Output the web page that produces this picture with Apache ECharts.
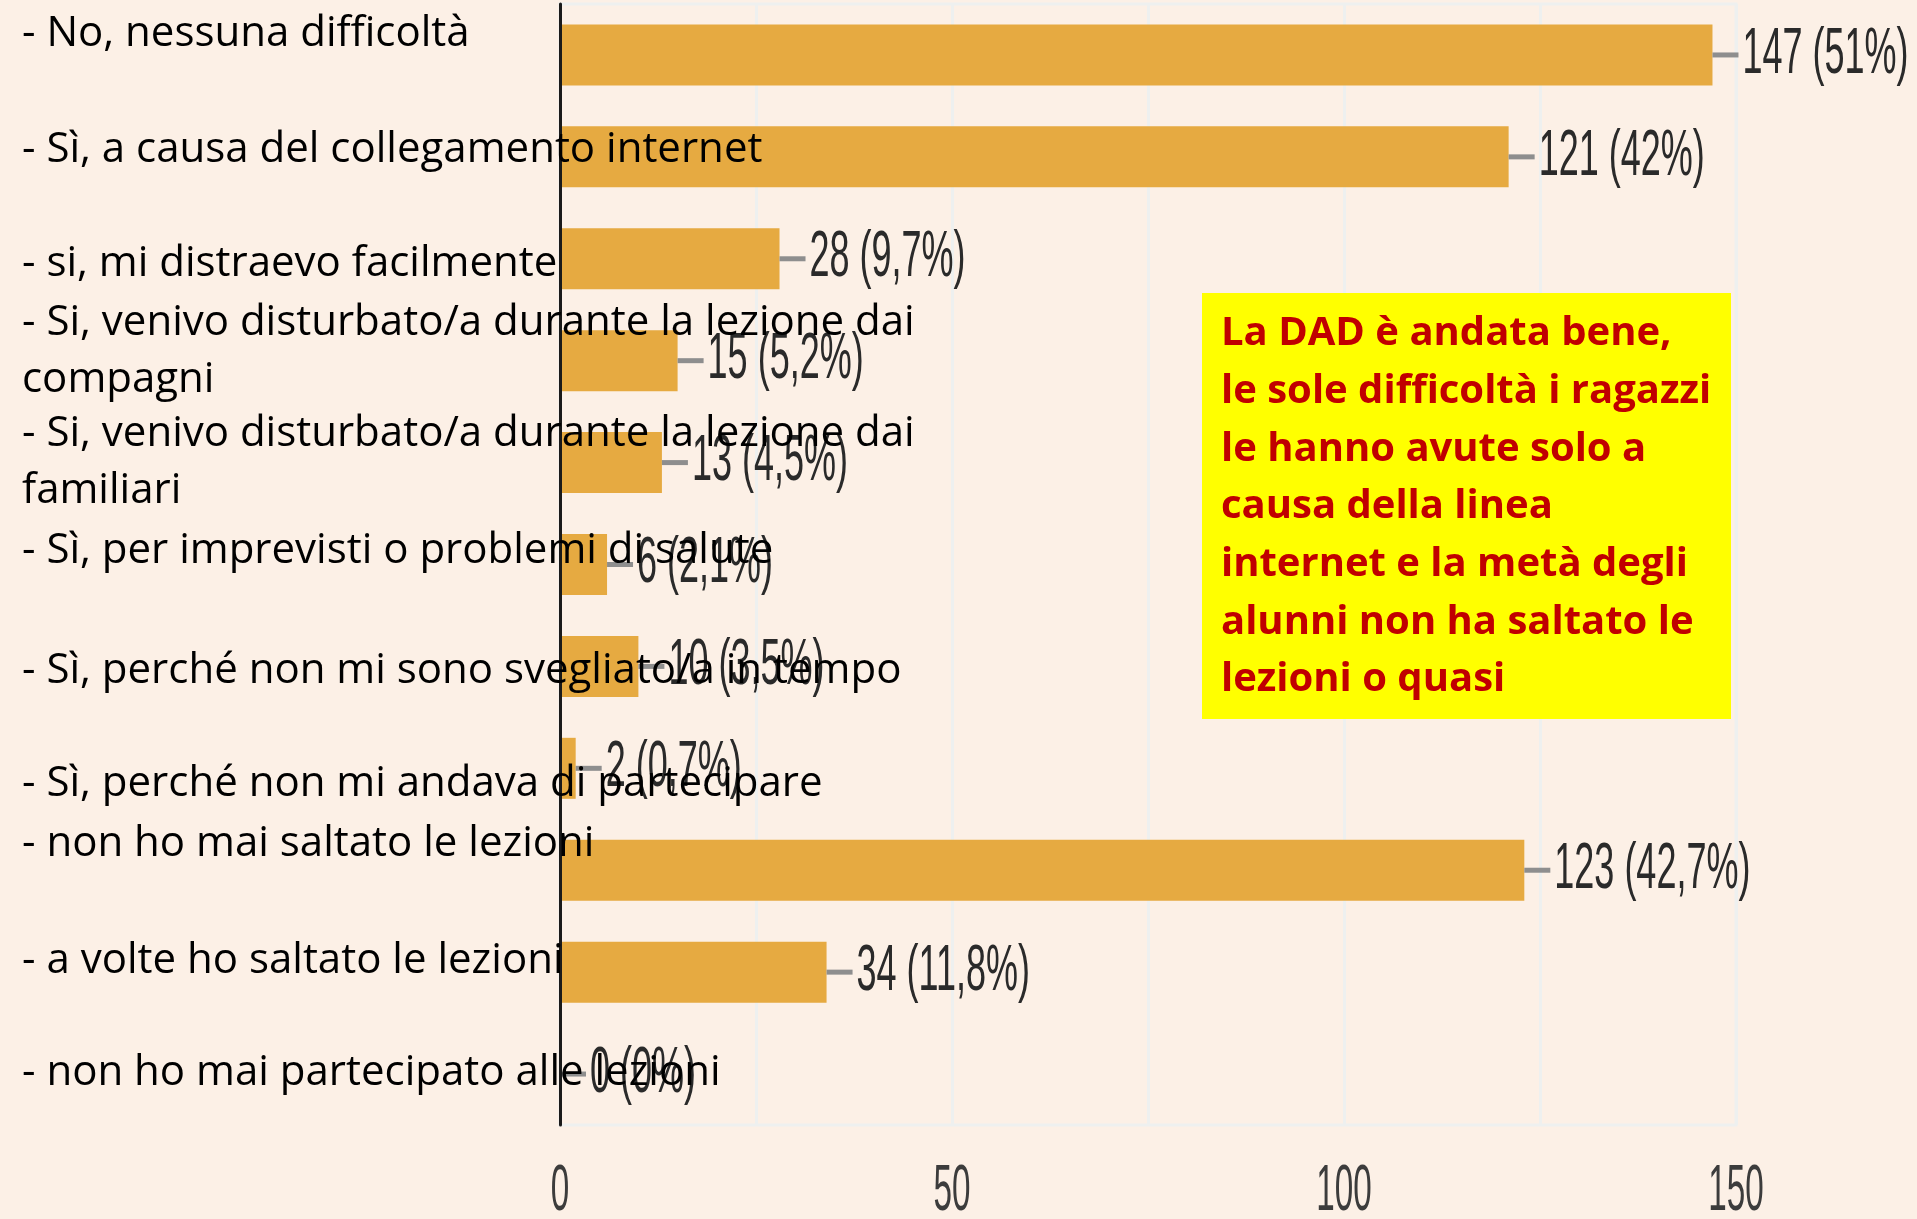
<!DOCTYPE html>
<html lang="it">
<head>
    <meta charset="UTF-8">
    <title>DAD - difficoltà</title>
    <script src="https://cdn.jsdelivr.net/npm/echarts@6/dist/echarts.min.js"></script>
    <style>
        body {
            margin: 0;
            padding: 0;
            background: #fcf0e6;
        }

        #main {
            width: 1917px;
            height: 1219px;
        }
    </style>
</head>
<body>
    <div id="main"></div>
    <script type="text/javascript">
        // risposte (dall'alto in basso)
        var categories = [
            '- No, nessuna difficoltà',
            '- Sì, a causa del collegamento internet',
            '- si, mi distraevo facilmente',
            '- Si, venivo disturbato/a durante la lezione dai\ncompagni',
            '- Si, venivo disturbato/a durante la lezione dai\nfamiliari',
            '- Sì, per imprevisti o problemi di salute',
            '- Sì, perché non mi sono svegliato/a in tempo',
            '- Sì, perché non mi andava di partecipare',
            '- non ho mai saltato le lezioni',
            '- a volte ho saltato le lezioni',
            '- non ho mai partecipato alle lezioni'
        ];
        var counts = [147, 121, 28, 15, 13, 6, 10, 2, 123, 34, 0];
        var percents = ['51%', '42%', '9,7%', '5,2%', '4,5%', '2,1%', '3,5%', '0,7%', '42,7%', '11,8%', '0%'];
        var xTickLabels = [0, 50, 100, 150];

        var note = 'La DAD è andata bene,\nle sole difficoltà i ragazzi\nle hanno avute solo a\ncausa della linea\ninternet e la metà degli\nalunni non ha saltato le\nlezioni o quasi';

        // le etichette di sinistra nella slide non sono centrate sulle barre: piccolo spostamento (px, + = su)
        var nudge = [21, 7, -5, 9, 0, 13, -5, -16, 26, 11, 1];

        var catFont = '"Open Sans", Lato, sans-serif';
        var catSize = 42;
        var numFont = '"Liberation Sans", Arial, sans-serif';
        var padBase = (57.5 - catSize) / 2;

        var rich = {};
        categories.forEach(function (c, i) {
            var n = nudge[i];
            var nl = c.split('\n').length;
            for (var k = 0; k < nl; k++) {
                var top = padBase + (k === 0 && n < 0 ? -2 * n : 0);
                var bottom = padBase + (k === nl - 1 && n > 0 ? 2 * n : 0);
                rich['t' + i + '_' + k] = { padding: [top, 0, bottom, 0] };
            }
        });

        var myChart = echarts.init(document.getElementById('main'));

        var option = {
            animation: false,
            backgroundColor: '#fcf0e6',
            grid: {
                left: 560,
                right: 181,
                top: 4,
                bottom: 94,
                show: true,
                borderColor: '#eef0ef',
                borderWidth: 3,
                outerBoundsMode: 'none'
            },
            xAxis: {
                type: 'value',
                min: 0,
                max: 150,
                interval: 25,
                axisLine: { show: false },
                axisTick: { show: false },
                axisLabel: { show: false },
                splitLine: {
                    lineStyle: { color: '#eef0ef', width: 3 }
                }
            },
            yAxis: {
                type: 'category',
                inverse: true,
                data: categories,
                z: 10,
                axisLine: {
                    show: true,
                    lineStyle: { color: '#1a1a1a', width: 3 }
                },
                axisTick: { show: false },
                splitLine: { show: false },
                axisLabel: {
                    align: 'left',
                    margin: 538,
                    fontFamily: catFont,
                    fontSize: catSize,
                    color: '#000',
                    rich: rich,
                    formatter: function (value, idx) {
                        return value.split('\n').map(function (l, k) {
                            return '{t' + idx + '_' + k + '|' + l + '}';
                        }).join('\n');
                    }
                }
            },
            series: [{
                type: 'bar',
                data: counts,
                barWidth: 61,
                itemStyle: { color: '#e6aa41' }
            }, {
                // valori a destra delle barre (testo stretto come nell'originale)
                type: 'custom',
                coordinateSystem: 'cartesian2d',
                data: counts.map(function (c, i) { return [c, i]; }),
                encode: { x: 0, y: 1 },
                z: 5,
                renderItem: function (params, api) {
                    var i = params.dataIndex;
                    var p = api.coord([api.value(0), i]);
                    return {
                        type: 'group',
                        children: [{
                            type: 'rect',
                            shape: { x: p[0], y: p[1] - 2.5, width: 26, height: 5 },
                            style: { fill: '#8e8e8e' }
                        }, {
                            type: 'text',
                            x: p[0] + 30,
                            y: p[1],
                            scaleX: 0.5625,
                            style: {
                                text: counts[i] + ' (' + percents[i] + ')',
                                font: '64px ' + numFont,
                                align: 'left',
                                verticalAlign: 'middle',
                                fill: '#2a2a2a'
                            }
                        }]
                    };
                }
            }, {
                // etichette dell'asse x
                type: 'custom',
                coordinateSystem: 'cartesian2d',
                data: xTickLabels.map(function (v) { return [v, 0]; }),
                encode: { x: 0, y: 1 },
                z: 5,
                renderItem: function (params, api) {
                    var x = api.coord([api.value(0), 0])[0];
                    var y = params.coordSys.y + params.coordSys.height + 67;
                    return {
                        type: 'text',
                        x: x,
                        y: y,
                        scaleX: 0.52,
                        style: {
                            text: String(api.value(0)),
                            font: '64px ' + numFont,
                            align: 'center',
                            verticalAlign: 'middle',
                            fill: '#3c3c3c'
                        }
                    };
                }
            }],
            graphic: [{
                type: 'rect',
                left: 1202,
                top: 293,
                z: 100,
                shape: { width: 529, height: 426 },
                style: { fill: '#ffff00' }
            }, {
                type: 'text',
                left: 1221,
                top: 305,
                z: 101,
                style: {
                    text: note,
                    fontFamily: catFont,
                    fontWeight: 'bold',
                    fontSize: 40,
                    lineHeight: 57.7,
                    fill: '#c00000'
                }
            }]
        };

        myChart.setOption(option);
    </script>
</body>
</html>
